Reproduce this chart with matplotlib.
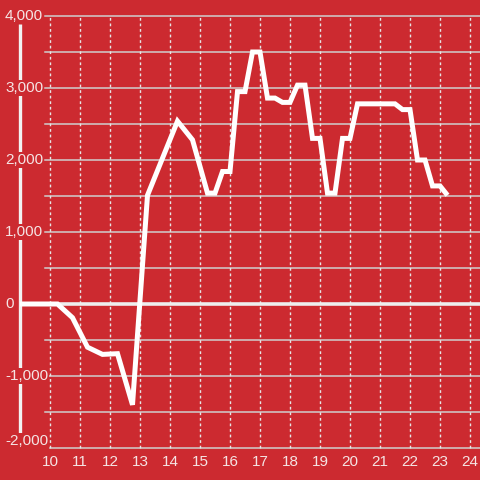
import matplotlib
matplotlib.use('Agg')
import matplotlib.pyplot as plt

plt.rcParams['font.family'] = ['Liberation Sans', 'DejaVu Sans']

# hours (decimal) and values
hours = [9.0, 10.25, 10.75, 11.25, 11.75, 12.25, 12.75, 13.25, 14.25, 14.75,
         15.25, 15.5, 15.75, 16.0, 16.25, 16.5, 16.75, 17.0, 17.25, 17.5,
         17.75, 18.0, 18.25, 18.5, 18.75, 19.0, 19.25, 19.5, 19.75, 20.0,
         20.25, 21.5, 21.75, 22.0, 22.25, 22.5, 22.75, 23.0, 23.25]
values = [0, 0, -190, -600, -700, -690, -1400, 1510, 2540, 2280,
          1540, 1540, 1840, 1840, 2950, 2950, 3500, 3500, 2860, 2860,
          2800, 2800, 3040, 3040, 2300, 2300, 1540, 1540, 2300, 2300,
          2780, 2780, 2700, 2700, 2000, 2000, 1640, 1640, 1510]

x_ticks = list(range(10, 25))
y_ticks = [4000, 3000, 2000, 1000, 0, -1000, -2000]
y_labels = ['4,000', '3,000', '2,000', '1,000', '0', '-1,000', '-2,000']

bg = '#cc2a30'
txt = '#f5e4e4'

fig = plt.figure(figsize=(4.8, 4.8), dpi=100, facecolor=bg)
ax = fig.add_axes([0, 0, 1, 1])
ax.set_facecolor(bg)
ax.axis('off')

# pixel -> data: 30 px per hour, 10 at x=50; 0 at y=304, 72 px per 1000
ax.set_xlim(10 - 50 / 30, 10 + 430 / 30)
ax.set_ylim((304 - 480) / 0.072, 304 / 0.072)

# horizontal grid every 500
for v in range(-2000, 4001, 500):
    if v == 0:
        continue
    x0 = 10 - 5 / 30 if v > -2000 else 10
    ax.plot([x0, 24.4], [v, v], color='#cfcfcf', lw=1.1, zorder=1)

# vertical dotted grid
for h in x_ticks:
    ax.plot([h, h], [-2000, 4000], color='#e6e6e6', lw=1.0, ls=(0, (2, 2)), zorder=1)

# zero line and left axis bar
ax.plot([9.0, 24.4], [0, 0], color='#eeeeee', lw=2.6, zorder=2, solid_capstyle='butt')
ax.plot([9.0, 9.0], [-1820, 3890], color='#f2f2f2', lw=2.4, zorder=2, solid_capstyle='butt')

# data line
ax.plot(hours, values, color='white', lw=3.6, zorder=4,
        solid_joinstyle='miter', solid_capstyle='butt')

# y labels (left aligned, red box hides the bar)
for v, lab in zip(y_ticks, y_labels):
    yy = v if v > -2000 else -1900
    ax.text(8.333 + 5 / 30, yy, lab, ha='left', va='center', fontsize=11,
            color=txt, zorder=3,
            bbox=dict(boxstyle='square,pad=0.05', fc=bg, ec='none'))

# x labels
for h in x_ticks:
    ax.text(h, (304 - 462) / 0.072, str(h), ha='center', va='center',
            fontsize=11, color=txt, zorder=3)

fig.savefig('out.png', dpi=100, facecolor=bg)
